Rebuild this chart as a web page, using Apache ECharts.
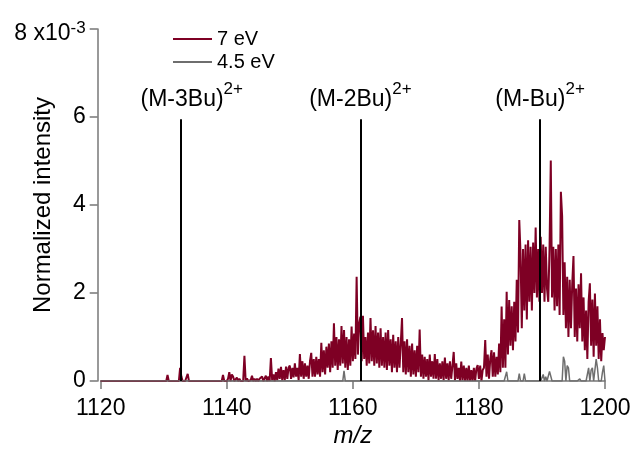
<!DOCTYPE html>
<html><head><meta charset="utf-8">
<script src="https://cdn.jsdelivr.net/npm/echarts@6/dist/echarts.min.js"></script>
<style>html,body{margin:0;padding:0;background:#fff}#c{width:631px;height:450px}</style>
</head><body><div id="c"></div>
<script>
// m/z grid of the spectra
const mzStart = 1120;
const mzStep = 0.2;
const xTicks = [1120, 1140, 1160, 1180, 1200];
const yTicks = [0, 2, 4, 6, 8];
const seriesNames = ['7 eV', '4.5 eV'];
// Normalized intensity (x10^-3), one value per 0.2 m/z from 1120.0 to 1200.0
const intensity7eV = [
 0,0,0,0,0, 0,0,0,0,0, 0,0,0,0,0, 0,0,0,0,0, 0,0,0,0,0,
 0,0,0,0,0, 0,0,0,0,0, 0,0,0,0,0, 0,0,0,0,0, 0,0,0,0,0,
 0,0,0,0.14,0, 0,0,0,0,0, 0,0,0,0.3,0.1, 0,0,0,0,0.16, 0,0,0,0,0,
 0,0,0,0,0, 0,0,0,0,0, 0,0,0,0,0, 0,0,0,0,0, 0,0,0.14,0,0,
 0,0.05,0.2,0,0.15, 0.1,0,0.02,0.08,0, 0.05,0,0.03,0,0.57, 0,0.06,0,0,0.02, 0.12,0,0.05,0,0.05,
 0,0.05,0.08,0.1,0, 0.04,0.12,0,0.1,0, 0.52,0.02,0.15,0,0.2, 0.02,0.28,0.05,0.32,0.02, 0.25,0.02,0.33,0.05,0.3,
 0.35,0.05,0.3,0.08,0.4, 0.1,0.3,0.02,0.61,0.1, 0.45,0.05,0.4,0.1,0.35, 0.05,0.45,0.64,0.1,0.5, 0.1,0.55,0.15,0.5,0.1,
 0.87,0.2,0.7,0.15,0.78, 0.3,0.85,0.2,0.9,0.3, 1.31,0.35,1.0,0.25,0.95, 0.35,1.25,0.4,1.16,0.3, 1.0,0.25,0.95,0.35,1.24,
 0.45,1.08,0.5,2.37,0.6, 1.3,1.46,0.45,1.48,0.5, 1.0,0.35,1.1,0.4,1.43, 0.45,1.15,0.35,1.25,0.4, 1.1,0.3,1.2,0.35,1.0,
 0.3,1.1,0.25,1.16,0.35, 0.95,0.2,1.05,0.3,0.9, 0.2,1.0,0.3,0.85,1.43, 0.2,0.9,0.15,0.95,0.2, 0.8,0.1,0.85,0.15,0.7,
 0.1,0.8,0.2,1.17,0.1, 0.6,0.05,0.55,0.1,0.5, 0.02,0.6,0.1,0.45,0.05, 0.61,0.05,0.5,0.02,0.4, 0.05,0.45,0.02,0.53,0.05,
 0.4,0.02,0.45,0.05,0.35, 0.66,0.02,0.4,0.05,0.3, 0,0.44,0.02,0.35,0, 0.3,0,0.35,0,0.25, 0,0.3,0,0.28,0.36,
 0.05,0.35,0,0.25,0.3, 0.93,0.1,0.6,0.05,0.5, 0.7,0.1,0.65,0.1,0.55, 0.15,0.85,0.2,1.69,0.3, 1.4,0.3,2.03,0.6,1.84,
 0.8,1.7,0.7,1.8,0.9, 2.3,1.1,3.66,2.9,1.2, 3.0,1.6,3.1,1.4,3.2, 1.8,3.05,1.6,3.15,2.0, 3.49,1.9,3.0,1.8,3.28,
 2.0,3.1,1.8,3.05,2.1, 1.8,3.0,5.01,1.9,3.05, 1.6,3.0,1.7,3.1,1.5, 4.3,3.75,1.5,2.7,1.2, 2.37,1.0,2.3,1.2,2.2,
 2.84,1.0,2.1,0.9,2.2, 1.2,2.45,0.9,1.9,0.7, 1.6,0.5,1.8,2.22,0.8, 1.85,0.55,1.99,0.8,1.7, 0.5,1.4,0.45,1.09,0.7,
 1.0
];
const intensity45eV = [
 0,0,0,0,0, 0,0,0,0,0, 0,0,0,0,0, 0,0,0,0,0, 0,0,0,0,0,
 0,0,0,0,0, 0,0,0,0,0, 0,0,0,0,0, 0,0,0,0,0, 0,0,0,0,0,
 0,0,0,0,0, 0,0,0,0,0, 0,0,0,0,0, 0,0,0,0,0, 0,0,0,0,0,
 0,0,0,0,0, 0,0,0,0,0, 0,0,0,0,0, 0,0,0,0,0, 0,0,0,0,0,
 0,0,0,0,0, 0,0,0,0,0, 0,0,0,0,0, 0,0,0,0,0, 0,0,0,0,0,
 0,0,0,0,0, 0,0,0,0,0, 0,0,0,0,0, 0,0,0,0,0, 0,0,0,0,0,
 0,0,0,0,0, 0,0,0,0,0, 0,0,0,0,0, 0,0,0,0,0, 0,0,0,0,0,
 0,0,0,0,0, 0,0,0,0,0, 0,0,0,0,0, 0,0,0,0.23,0, 0,0,0,0,0,
 0,0,0,0,0, 0,0,0,0,0, 0,0,0,0,0, 0,0,0,0,0, 0,0,0,0,0,
 0,0,0,0,0, 0,0,0,0,0, 0,0,0,0,0, 0,0,0,0,0, 0,0,0,0,0,
 0,0,0,0,0, 0,0,0,0,0, 0,0,0,0,0, 0,0,0,0,0, 0,0,0,0,0,
 0,0,0,0,0, 0,0,0,0,0, 0,0,0,0,0, 0,0,0,0,0, 0,0,0,0,0,
 0,0,0,0,0, 0,0,0,0,0, 0,0,0,0,0, 0,0,0,0,0, 0,0,0.21,0,0,
 0,0,0,0,0, 0,0,0.17,0,0, 0,0.17,0,0,0, 0,0,0,0,0, 0,0,0,0,0,
 0,0.15,0,0.1,0, 0,0.22,0.25,0,0, 0,0,0,0,0, 0,0,0.55,0.45,0, 0.35,0.3,0,0,0,
 0,0,0,0,0, 0.05,0,0,0,0, 0,0,0.3,0,0.25, 0.3,0,0,0.5,0.3, 0,0,0,0.2,0.35,
 0
];
// Fragment marker lines
const fragmentMz = [1132.7, 1161.2, 1189.7];
const fragmentNames = ['(M-3Bu)', '(M-2Bu)', '(M-Bu)'];
const fragmentCharge = '2+';
const fragmentTop = 5.95;
const yExponent = ['x10', '-3'];

const FONT = '"Liberation Sans", Arial, Helvetica, sans-serif';
const toPairs = arr => arr.map((v, i) => [+(mzStart + i * mzStep).toFixed(1), v]);
const labelOffsets = [11, 0, 0];

const chart = echarts.init(document.getElementById('c'), null, {renderer: 'canvas'});
chart.setOption({
  animation: false,
  textStyle: {fontFamily: FONT, color: '#000'},
  grid: {left: 100.7, right: 26, top: 29, bottom: 69, outerBoundsMode: 'none', containLabel: false},
  legend: {
    orient: 'vertical', left: 168, top: 24, itemWidth: 39, itemHeight: 2, itemGap: 3,
    icon: 'rect', data: seriesNames,
    textStyle: {fontSize: 20, color: '#000', fontFamily: FONT}
  },
  xAxis: {
    type: 'value', min: xTicks[0], max: xTicks[xTicks.length - 1], interval: 20, offset: 2.5,
    axisLine: {show: true, lineStyle: {color: '#777', width: 1.5}},
    axisTick: {show: true, length: 8, lineStyle: {color: '#777', width: 1.5}},
    splitLine: {show: false},
    axisLabel: {margin: 14, fontSize: 23, color: '#000', fontFamily: FONT, formatter: v => String(v)},
    name: 'm/z', nameLocation: 'middle', nameGap: 41, nameMoveOverlap: false,
    nameTextStyle: {fontSize: 24, fontStyle: 'italic', color: '#000', fontFamily: FONT}
  },
  yAxis: {
    type: 'value', min: yTicks[0], max: yTicks[yTicks.length - 1], interval: 2, offset: 3,
    axisLine: {show: true, lineStyle: {color: '#777', width: 1.5}},
    axisTick: {show: true, length: 8, lineStyle: {color: '#777', width: 1.5}},
    splitLine: {show: false},
    axisLabel: {
      margin: 12, color: '#000', fontFamily: FONT,
      formatter: v => v === yTicks[yTicks.length - 1] ? '{c|' + v + ' ' + yExponent[0] + '}{b|' + yExponent[1] + '}' : '{a|' + v + '}',
      rich: {
        a: {fontSize: 23, lineHeight: 36, fontFamily: FONT, color: '#000'},
        c: {fontSize: 23, lineHeight: 36, padding: [9, 0, 0, 0], fontFamily: FONT, color: '#000'},
        b: {fontSize: 17, lineHeight: 14, padding: [9, 0, 0, 0], verticalAlign: 'top', fontFamily: FONT, color: '#000'}
      }
    },
    name: 'Normalized intensity', nameLocation: 'middle', nameGap: 42, nameMoveOverlap: false,
    nameTextStyle: {fontSize: 24, color: '#000', fontFamily: FONT}
  },
  series: [
    {
      name: seriesNames[0], type: 'line', data: toPairs(intensity7eV), showSymbol: false, symbol: 'none',
      color: '#7E0024', lineStyle: {color: '#7E0024', width: 2}, z: 2
    },
    {
      name: seriesNames[1], type: 'line', data: toPairs(intensity45eV), showSymbol: false, symbol: 'none',
      color: '#6E6E6E', lineStyle: {color: '#6E6E6E', width: 1.5}, z: 3
    },
    {
      name: 'fragments', type: 'line', data: [], z: 4,
      markLine: {
        silent: true, symbol: 'none', animation: false,
        lineStyle: {color: '#000', width: 2, type: 'solid'},
        label: {
          show: true, position: 'end', distance: 2,
          rich: {
            a: {fontSize: 23, lineHeight: 36, fontFamily: FONT, color: '#000'},
            b: {fontSize: 17, lineHeight: 17, verticalAlign: 'top', fontFamily: FONT, color: '#000'}
          }
        },
        data: fragmentMz.map((m, k) => [
          {coord: [m, 0], label: {formatter: '{a|' + fragmentNames[k] + '}{b|' + fragmentCharge + '}', offset: [labelOffsets[k], 0]}},
          {coord: [m, fragmentTop]}
        ])
      }
    }
  ]
});
</script></body></html>
